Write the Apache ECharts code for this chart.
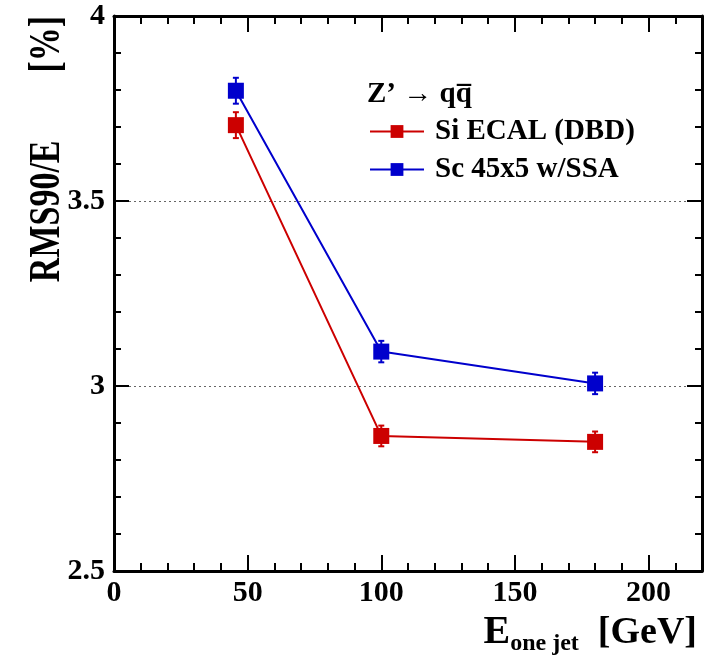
<!DOCTYPE html>
<html>
<head>
<meta charset="utf-8">
<script src="https://cdn.jsdelivr.net/npm/echarts@6/dist/echarts.min.js"></script>
<style>
  html, body { margin: 0; padding: 0; background: #fff; }
  #chart { width: 709px; height: 659px; }
</style>
</head>
<body>
<div id="chart"></div>
<script>
// data
const energies = [45.6, 100, 180];
const siEcal = [3.705, 2.865, 2.849];
const siEcalErr = [0.035, 0.028, 0.028];
const sc45 = [3.798, 3.093, 3.007];
const sc45Err = [0.035, 0.029, 0.029];
const xTickLabels = ['0', '50', '100', '150', '200'];
const yTickLabels = ['2.5', '3', '3.5', '4'];

const FONT = 'Liberation Serif';
const RED = '#cc0000';
const BLUE = '#0000cc';

function points(ys) {
  return energies.map((x, i) => [x, ys[i]]);
}
function withErr(ys, errs) {
  return energies.map((x, i) => [x, ys[i], errs[i]]);
}

// vertical error bar with small caps
function errorBars(color) {
  return function (params, api) {
    const x = api.value(0), y = api.value(1), e = api.value(2);
    const top = api.coord([x, y + e]);
    const bot = api.coord([x, y - e]);
    const style = { stroke: color, lineWidth: 2 };
    return {
      type: 'group',
      children: [
        { type: 'line', shape: { x1: top[0], y1: top[1], x2: bot[0], y2: bot[1] }, style: style },
        { type: 'line', shape: { x1: top[0] - 3, y1: top[1], x2: top[0] + 3, y2: top[1] }, style: style },
        { type: 'line', shape: { x1: bot[0] - 3, y1: bot[1], x2: bot[0] + 3, y2: bot[1] }, style: style }
      ]
    };
  };
}

const frameLine = { show: true, onZero: false, lineStyle: { color: '#000', width: 3 } };

// major (50) and minor (10) x ticks drawn as two overlapping axes
function xAxisDef(pos, step, tickLen, labels) {
  return {
    type: 'value',
    position: pos,
    min: 0,
    max: 220,
    interval: step,
    axisLine: step === 50 ? frameLine : { show: false },
    axisTick: { show: true, inside: true, length: tickLen, lineStyle: { color: '#000', width: 2 } },
    axisLabel: labels ? {
      show: true,
      margin: 7,
      showMaxLabel: false,
      fontFamily: FONT,
      fontWeight: 'bold',
      fontSize: 30,
      color: '#000',
      formatter: v => xTickLabels[v / 50] || ''
    } : { show: false },
    splitLine: { show: false }
  };
}

function yAxisDef(pos, labels) {
  return {
    type: 'value',
    position: pos,
    min: 2.5,
    max: 4,
    interval: 0.5,
    axisLine: frameLine,
    axisTick: { show: true, inside: true, length: 15, lineStyle: { color: '#000', width: 2 } },
    minorTick: { show: true, splitNumber: 5, length: 7, lineStyle: { color: '#000', width: 2 } },
    axisLabel: labels ? {
      show: true,
      margin: 9,
      fontFamily: FONT,
      fontWeight: 'bold',
      fontSize: 30,
      color: '#000',
      formatter: v => yTickLabels[Math.round((v - 2.5) / 0.5)]
    } : { show: false },
    splitLine: labels ? { show: true, lineStyle: { color: '#666', width: 1, type: [2, 3] } } : { show: false }
  };
}

const chart = echarts.init(document.getElementById('chart'));
chart.setOption({
  animation: false,
  backgroundColor: '#fff',
  grid: { left: 114, right: 7, top: 16, bottom: 88 },
  title: {
    text: 'Z’ → qq\u0305',
    left: 362,
    top: 75,
    textStyle: { fontFamily: FONT, fontWeight: 'bold', fontSize: 29, color: '#000' }
  },
  legend: {
    orient: 'vertical',
    left: 364,
    top: 112,
    itemWidth: 54,
    itemHeight: 16,
    itemGap: 9,
    data: ['Si ECAL (DBD)', 'Sc 45x5 w/SSA'],
    textStyle: { fontFamily: FONT, fontWeight: 'bold', fontSize: 29, color: '#000', padding: [0, 0, 0, 6] }
  },
  xAxis: [
    xAxisDef('bottom', 50, 16, true),
    xAxisDef('bottom', 10, 8, false),
    xAxisDef('top', 50, 16, false),
    xAxisDef('top', 10, 8, false)
  ],
  yAxis: [
    yAxisDef('left', true),
    yAxisDef('right', false)
  ],
  graphic: [
    {
      type: 'text',
      x: 48,
      y: 149,
      rotation: Math.PI / 2,
      scaleY: 1.3,
      style: {
        text: 'RMS90/E        [%]',
        fontFamily: FONT,
        fontWeight: 'bold',
        fontSize: 34,
        fill: '#000',
        align: 'center',
        verticalAlign: 'middle'
      }
    },
    {
      type: 'text',
      x: 697,
      y: 633,
      style: {
        text: '{e|E}{sub|one jet}{u|  [GeV]}',
        align: 'right',
        verticalAlign: 'middle',
        rich: {
          e: { fontFamily: FONT, fontWeight: 'bold', fontSize: 40, fill: '#000' },
          sub: { fontFamily: FONT, fontWeight: 'bold', fontSize: 24, fill: '#000', padding: [22, 0, 0, 0] },
          u: { fontFamily: FONT, fontWeight: 'bold', fontSize: 38, fill: '#000' }
        }
      }
    }
  ],
  series: [
    {
      type: 'custom',
      xAxisIndex: 0,
      yAxisIndex: 0,
      renderItem: errorBars(RED),
      data: withErr(siEcal, siEcalErr),
      z: 3
    },
    {
      type: 'custom',
      xAxisIndex: 0,
      yAxisIndex: 0,
      renderItem: errorBars(BLUE),
      data: withErr(sc45, sc45Err),
      z: 3
    },
    {
      name: 'Si ECAL (DBD)',
      type: 'line',
      xAxisIndex: 0,
      yAxisIndex: 0,
      data: points(siEcal),
      color: RED,
      symbol: 'rect',
      symbolSize: 16,
      showAllSymbol: true,
      lineStyle: { width: 2, color: RED },
      itemStyle: { color: RED },
      z: 4
    },
    {
      name: 'Sc 45x5 w/SSA',
      type: 'line',
      xAxisIndex: 0,
      yAxisIndex: 0,
      data: points(sc45),
      color: BLUE,
      symbol: 'rect',
      symbolSize: 16,
      showAllSymbol: true,
      lineStyle: { width: 2, color: BLUE },
      itemStyle: { color: BLUE },
      z: 4
    }
  ]
});
</script>
</body>
</html>
